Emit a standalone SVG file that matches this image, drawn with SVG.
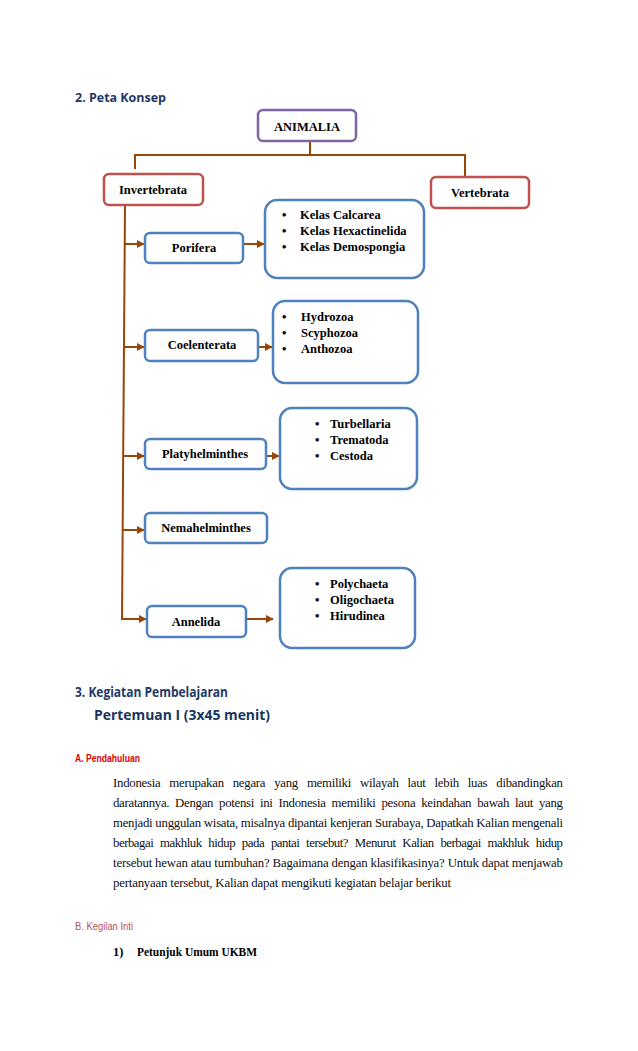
<svg xmlns="http://www.w3.org/2000/svg" width="638" height="1051" viewBox="0 0 638 1051">
<defs>
<marker id="ah" viewBox="0 0 10 10" refX="9" refY="5" markerWidth="4" markerHeight="4" orient="auto" markerUnits="strokeWidth">
<path d="M0,0 L10,5 L0,10 z" fill="#974806"/>
</marker>
<style>
.con{stroke:#974806;stroke-width:2;fill:none}
.arr{stroke:#974806;stroke-width:2;fill:none;marker-end:url(#ah)}
.bp{fill:#fff;stroke:#8064A2;stroke-width:2.5}
.br{fill:#fff;stroke:#C0504D;stroke-width:2.5}
.bb{fill:#fff;stroke:#4F81BD;stroke-width:2.5}
.t{font-family:"Liberation Serif","DejaVu Serif",serif;font-weight:bold;font-size:12.5px;fill:#000}
.tc{text-anchor:middle}
.h{font-family:"Open Sans","Liberation Sans",sans-serif;font-weight:bold;fill:#1F3864}
.p{font-family:"Liberation Serif","DejaVu Serif",serif;font-size:12.8px;fill:#111}
</style>
</defs>
<rect width="638" height="1051" fill="#fff"/>

<text class="h" x="75" y="102" font-size="13" textLength="91" lengthAdjust="spacingAndGlyphs">2.   Peta Konsep</text>

<g id="connectors">
<path class="con" d="M310,141 V155 M135,169 V155 H465 V177"/>
<path class="con" d="M125,205 L122,620"/>
<path class="arr" d="M124,244 H144"/>
<path class="arr" d="M124,347 H144"/>
<path class="arr" d="M123,456 H144"/>
<path class="arr" d="M123,530 H144"/>
<path class="arr" d="M122,619 H146"/>
<path class="arr" d="M243,244 H264"/>
<path class="arr" d="M258,347 H272"/>
<path class="arr" d="M266,456 H279"/>
<path class="arr" d="M246,619 H273"/>
</g>

<g id="animalia"><rect class="bp" x="258" y="110" width="98" height="31" rx="5"/><text class="t tc" x="307" y="131" font-size="14">ANIMALIA</text></g>
<g id="invertebrata"><rect class="br" x="104" y="174" width="99" height="31" rx="5"/><text class="t tc" x="153" y="194">Invertebrata</text></g>
<g id="vertebrata"><rect class="br" x="431" y="177" width="98" height="31" rx="5"/><text class="t tc" x="480" y="197">Vertebrata</text></g>

<g id="porifera"><rect class="bb" x="145" y="233" width="98" height="30" rx="5"/><text class="t tc" x="194" y="252">Porifera</text></g>
<g id="coelenterata"><rect class="bb" x="145" y="330" width="113" height="31" rx="5"/><text class="t tc" x="202" y="349">Coelenterata</text></g>
<g id="platyhelminthes"><rect class="bb" x="145" y="439" width="121" height="30" rx="5"/><text class="t tc" x="205" y="458">Platyhelminthes</text></g>
<g id="nemahelminthes"><rect class="bb" x="145" y="513" width="122" height="30" rx="5"/><text class="t tc" x="206" y="532">Nemahelminthes</text></g>
<g id="annelida"><rect class="bb" x="147" y="606" width="99" height="31" rx="5"/><text class="t tc" x="196" y="626">Annelida</text></g>

<g id="list-porifera"><rect class="bb" x="265" y="200" width="159" height="78" rx="12"/>
<text class="t" x="282" y="219">•</text><text class="t" x="300" y="219">Kelas Calcarea</text>
<text class="t" x="282" y="235">•</text><text class="t" x="300" y="235">Kelas Hexactinelida</text>
<text class="t" x="282" y="251">•</text><text class="t" x="300" y="251">Kelas Demospongia</text></g>

<g id="list-coelenterata"><rect class="bb" x="273" y="301" width="145" height="82" rx="12"/>
<text class="t" x="282" y="321">•</text><text class="t" x="301" y="321">Hydrozoa</text>
<text class="t" x="282" y="337">•</text><text class="t" x="301" y="337">Scyphozoa</text>
<text class="t" x="282" y="353">•</text><text class="t" x="301" y="353">Anthozoa</text></g>

<g id="list-platyhelminthes"><rect class="bb" x="280" y="408" width="137" height="81" rx="12"/>
<text class="t" x="315" y="428">•</text><text class="t" x="330" y="428">Turbellaria</text>
<text class="t" x="315" y="444">•</text><text class="t" x="330" y="444">Trematoda</text>
<text class="t" x="315" y="460">•</text><text class="t" x="330" y="460">Cestoda</text></g>

<g id="list-annelida"><rect class="bb" x="280" y="568" width="135" height="80" rx="12"/>
<text class="t" x="315" y="588">•</text><text class="t" x="330" y="588">Polychaeta</text>
<text class="t" x="315" y="604">•</text><text class="t" x="330" y="604">Oligochaeta</text>
<text class="t" x="315" y="620">•</text><text class="t" x="330" y="620">Hirudinea</text></g>

<text class="h" x="75" y="697" font-size="13.5" fill="#17365D" textLength="153" lengthAdjust="spacingAndGlyphs">3.   Kegiatan Pembelajaran</text>
<text class="h" x="94" y="720" font-size="14" textLength="176" lengthAdjust="spacingAndGlyphs" style="fill:#17365D">Pertemuan I (3x45 menit)</text>
<text x="75" y="762" font-family="Liberation Sans, sans-serif" font-weight="bold" font-size="10" fill="#E00000" textLength="65" lengthAdjust="spacingAndGlyphs">A. Pendahuluan</text>

<text class="p" x="113" y="787" textLength="450" lengthAdjust="spacing" word-spacing="6">Indonesia merupakan negara yang memiliki wilayah laut lebih luas dibandingkan</text>
<text class="p" x="113" y="807" textLength="450" lengthAdjust="spacing" word-spacing="3">daratannya. Dengan potensi ini Indonesia memiliki pesona keindahan bawah laut yang</text>
<text class="p" x="113" y="827" textLength="450" lengthAdjust="spacing">menjadi unggulan wisata, misalnya dipantai kenjeran Surabaya, Dapatkah Kalian mengenali</text>
<text class="p" x="113" y="847" textLength="450" lengthAdjust="spacing" word-spacing="4">berbagai makhluk hidup pada pantai tersebut? Menurut Kalian berbagai makhluk hidup</text>
<text class="p" x="113" y="867" textLength="450" lengthAdjust="spacing">tersebut hewan atau tumbuhan? Bagaimana dengan klasifikasinya? Untuk dapat menjawab</text>
<text class="p" x="113" y="887" textLength="338" lengthAdjust="spacing">pertanyaan tersebut, Kalian dapat mengikuti kegiatan belajar berikut</text>

<text x="75" y="930" font-family="Liberation Sans, sans-serif" font-size="10" fill="#C0504D" textLength="58" lengthAdjust="spacingAndGlyphs">B. Kegilan Inti</text>
<text class="t" x="113" y="956" font-size="12.5">1)</text>
<text class="t" x="137" y="956" font-size="12.5" textLength="120" lengthAdjust="spacingAndGlyphs">Petunjuk Umum UKBM</text>
</svg>
